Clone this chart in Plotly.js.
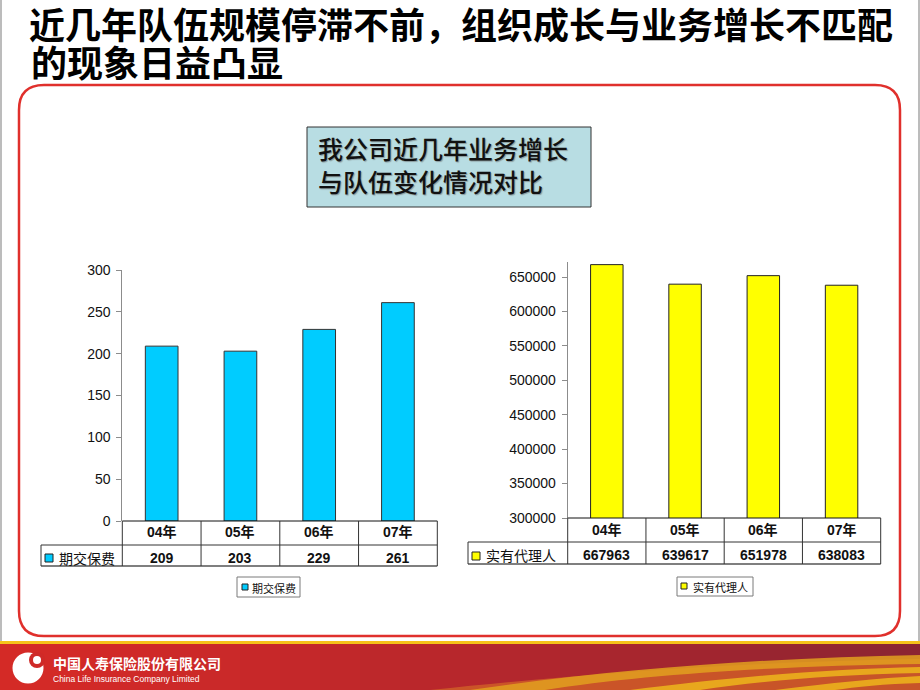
<!DOCTYPE html>
<html><head><meta charset="utf-8">
<script src="https://cdn.plot.ly/plotly-3.0.1.min.js"></script>
<style>html,body{margin:0;padding:0;background:#fff;}#chart{width:920px;height:690px;}</style>
</head><body><div id="chart"></div>
<script>
// ---------- data ----------
const titleLines = ['近几年队伍规模停滞不前，组织成长与业务增长不匹配', '的现象日益凸显'];
const boxLines = ['我公司近几年业务增长', '与队伍变化情况对比'];
const years = ['04年', '05年', '06年', '07年'];
const premiumName = '期交保费';
const premium = [209, 203, 229, 261];
const premiumTicks = [0, 50, 100, 150, 200, 250, 300];
const agentName = '实有代理人';
const agents = [667963, 639617, 651978, 638083];
const agentTicks = [300000, 350000, 400000, 450000, 500000, 550000, 600000, 650000];
const companyCN = '中国人寿保险股份有限公司';
const companyEN = 'China Life Insurance Company Limited';

// ---------- helpers (pixel -> paper) ----------
const W = 920, H = 690;
const X = x => x / W;
const Y = y => 1 - y / H;
function pathPx(s) {
  let i = 0;
  return s.replace(/-?\d+(\.\d+)?/g, m => { const v = parseFloat(m); const r = (i % 2 === 0) ? X(v) : Y(v); i++; return r.toFixed(5); });
}
const CJK = 'Noto Sans CJK SC';
const LAT = 'Liberation Sans, Noto Sans CJK SC';
const shapes = [];
const annotations = [];
function rect(x0, y0, x1, y1, fill, line, lw, layer) {
  shapes.push({type: 'rect', xref: 'paper', yref: 'paper', x0: X(x0), x1: X(x1), y0: Y(y1), y1: Y(y0),
    fillcolor: fill || 'rgba(0,0,0,0)', line: {color: line || 'rgba(0,0,0,0)', width: lw === undefined ? 1 : lw}, layer: layer || 'above'});
}
function line(x0, y0, x1, y1, color, w, layer) {
  shapes.push({type: 'line', xref: 'paper', yref: 'paper', x0: X(x0), x1: X(x1), y0: Y(y0), y1: Y(y1),
    line: {color: color, width: w || 1}, layer: layer || 'above'});
}
function path(s, fill, lineColor, lw, layer) {
  shapes.push({type: 'path', xref: 'paper', yref: 'paper', path: pathPx(s), fillcolor: fill || 'rgba(0,0,0,0)',
    line: {color: lineColor || 'rgba(0,0,0,0)', width: lw || 0}, layer: layer || 'below'});
}
function circle(cx, cy, r, fill) {
  shapes.push({type: 'circle', xref: 'paper', yref: 'paper', x0: X(cx - r), x1: X(cx + r), y0: Y(cy + r), y1: Y(cy - r),
    fillcolor: fill, line: {width: 0}, layer: 'below'});
}
function ann(text, x, y, font, xanchor, extra) {
  annotations.push(Object.assign({text: text, xref: 'paper', yref: 'paper', x: X(x), y: Y(y), xanchor: xanchor || 'left', yanchor: 'middle',
    showarrow: false, font: font}, extra || {}));
}

// ---------- page decoration ----------
line(1, 0, 1, 641, '#a6a6a6', 1.5, 'below');
line(919, 0, 919, 641, '#a6a6a6', 1.5, 'below');
// red rounded frame
path('M 44 85 L 875 85 Q 900 85 900 110 L 900 611 Q 900 636 875 636 L 44 636 Q 19 636 19 611 L 19 110 Q 19 85 44 85 Z', 'rgba(0,0,0,0)', '#e0302c', 2.5, 'below');
// footer
rect(0, 641, 920, 644.5, '#f6c21a', null, 0, 'below');
const stripN = 23;
for (let i = 0; i < stripN; i++) {
  const t = i / (stripN - 1);
  const r = Math.round(212 + (140 - 212) * Math.pow(t, 1.3));
  const g = Math.round(42 + (36 - 42) * t);
  const b = Math.round(38 + (50 - 38) * t);
  rect(i * W / stripN, 644, (i + 1) * W / stripN + 1, 690, `rgb(${r},${g},${b})`, null, 0, 'below');
}
path('M 430 690 C 600 672 750 662 920 659 L 920 690 Z', 'rgba(205,90,40,0.9)');
path('M 470 690 C 620 668 770 658 920 655 L 920 664 C 770 666 640 675 545 690 Z', 'rgba(226,160,30,0.85)');
path('M 630 690 C 740 676 830 669 920 667 L 920 673 C 830 675 760 681 700 690 Z', 'rgba(234,172,28,0.95)');
path('M 775 690 C 830 683 880 678 920 676 L 920 683 C 885 684 855 687 835 690 Z', 'rgba(234,172,28,0.95)');
// logo
circle(28, 668, 15.5, '#ffffff');
circle(37, 660, 8, '#cf2a28');
circle(37, 660, 4, '#ffffff');
ann('<b>' + companyCN + '</b>', 51, 662.5, {family: CJK, size: 14, color: '#ffffff'});
ann(companyEN, 51, 679, {family: 'Liberation Sans', size: 8.5, color: '#ffffff'});

// ---------- callout box ----------
rect(307, 127, 591, 207, '#b8dde3', '#333333', 1, 'below');
ann(boxLines.join('<br>'), 316, 164, {family: CJK, size: 25, color: '#111', weight: 500, shadow: '1px 1px 1px #8a9a9c'}, 'left', {align: 'left'});

// title line 2
ann(titleLines[1], 29, 64.5, {family: LAT, size: 36, color: '#000', weight: 700});

// ---------- chart geometry ----------
const L = {x0: 122.3, x1: 437.3, y0: 270, y1: 521, hdr: 545, bot: 566, lab: 41};
const R = {x0: 567.7, x1: 880.7, y0: 262, y1: 518, hdr: 542, bot: 564, lab: 468};

function table(G, xa, values, label, keyColor, hy, vy, keyBox) {
  const colW = (G.x1 - G.x0) / years.length;
  line(G.x0, G.y1, G.x1, G.y1, '#111', 1);
  line(G.lab, G.hdr, G.x1, G.hdr, '#333', 1);
  line(G.lab, G.bot, G.x1, G.bot, '#555', 1.3);
  line(G.lab, G.hdr, G.lab, G.bot, '#333', 1);
  for (let i = 0; i <= years.length; i++) {
    const cx = G.x0 + colW * i;
    line(cx, G.y1, cx, G.bot, '#333', 1);
  }
  years.forEach((yr, i) => {
    annotations.push({text: '<b>' + yr + '</b>', xref: xa, yref: 'paper', x: yr, y: Y(hy), xanchor: 'center', yanchor: 'middle',
      showarrow: false, font: {family: LAT, size: 14, color: '#111'}});
    annotations.push({text: '<b>' + values[i] + '</b>', xref: xa, yref: 'paper', x: yr, y: Y(vy), xanchor: 'center', yanchor: 'middle',
      showarrow: false, font: {family: LAT, size: 14, color: '#111'}});
  });
  rect(keyBox[0], keyBox[1], keyBox[0] + 8, keyBox[1] + 8, keyColor, '#222', 1);
  ann(label, keyBox[0] + 12, vy, {family: CJK, size: 14, color: '#111'});
}
table(L, 'x', premium, premiumName, '#00ccff', 532, 558, [45, 554]);
table(R, 'x2', agents, agentName, '#ffff00', 530, 555, [472, 552]);

// legend boxes
rect(237, 577, 300, 597, '#ffffff', '#7a7a7a', 1);
rect(242, 584, 248, 590, '#00ccff', '#222', 1);
ann(premiumName, 250, 587.5, {family: CJK, size: 11, color: '#111'});
rect(677, 577, 753, 596, '#ffffff', '#7a7a7a', 1);
rect(681, 583, 687, 589, '#ffff00', '#222', 1);
ann(agentName, 691, 586.5, {family: CJK, size: 11, color: '#111'});

// ---------- traces ----------
const traces = [
  {type: 'bar', name: premiumName, x: years, y: premium, xaxis: 'x', yaxis: 'y',
   marker: {color: '#00ccff', line: {color: '#333333', width: 1}}, hoverinfo: 'skip'},
  {type: 'bar', name: agentName, x: years, y: agents, xaxis: 'x2', yaxis: 'y2',
   marker: {color: '#ffff00', line: {color: '#222222', width: 1}}, hoverinfo: 'skip'}
];

const yCommon = {showline: true, linecolor: '#8c8c8c', linewidth: 1, ticks: 'outside', ticklen: 5, tickcolor: '#8c8c8c',
  showgrid: false, zeroline: false, tickfont: {family: 'Liberation Sans', size: 14, color: '#111'}, fixedrange: true, ticklabelstandoff: 3};
const xCommon = {type: 'category', showticklabels: false, showline: false, ticks: '', showgrid: false, zeroline: false, fixedrange: true};

const layout = {
  width: W, height: H, autosize: false,
  margin: {l: 0, r: 0, t: 0, b: 0, pad: 0},
  paper_bgcolor: '#ffffff', plot_bgcolor: 'rgba(0,0,0,0)',
  showlegend: false, bargap: 0.585,
  font: {family: LAT, color: '#111'},
  title: {text: titleLines[0], xref: 'paper', yref: 'paper', x: X(29), xanchor: 'left', y: Y(26), yanchor: 'middle',
    font: {family: LAT, size: 36, color: '#000', weight: 700}},
  xaxis: Object.assign({}, xCommon, {domain: [X(L.x0), X(L.x1)], anchor: 'y'}),
  yaxis: Object.assign({}, yCommon, {domain: [Y(L.y1), Y(L.y0)], range: [0, 300], tickvals: premiumTicks, anchor: 'x'}),
  xaxis2: Object.assign({}, xCommon, {domain: [X(R.x0), X(R.x1)], anchor: 'y2'}),
  yaxis2: Object.assign({}, yCommon, {domain: [Y(R.y1), Y(R.y0)], range: [300000, 671800], tickvals: agentTicks, tickformat: 'd', anchor: 'x2'}),
  shapes: shapes,
  annotations: annotations
};

Plotly.newPlot('chart', traces, layout, {staticPlot: true, displayModeBar: false});
</script>
</body></html>
